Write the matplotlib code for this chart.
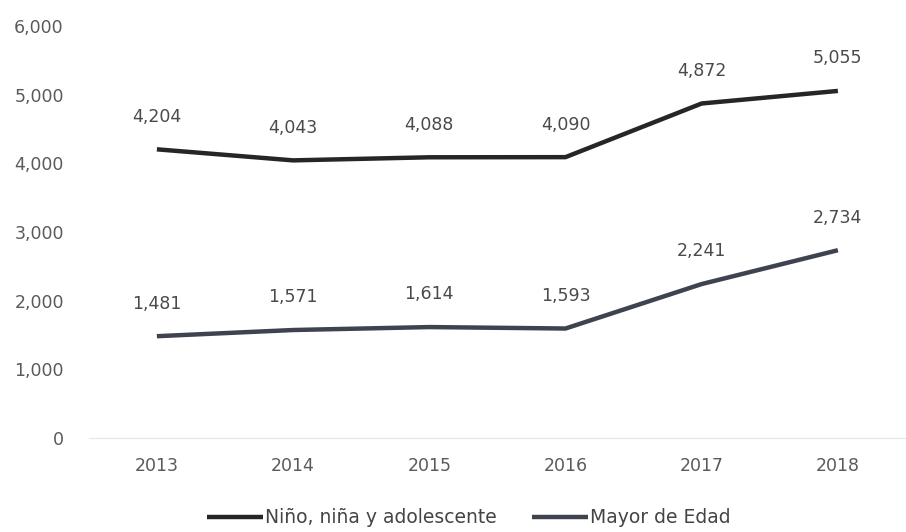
import matplotlib
matplotlib.use("Agg")
import matplotlib.pyplot as plt

plt.rcParams.update({"font.family": ["DejaVu Sans"]})

years = ["2013", "2014", "2015", "2016", "2017", "2018"]
ninos = [4204, 4043, 4088, 4090, 4872, 5055]
mayores = [1481, 1571, 1614, 1593, 2241, 2734]
yticks = [0, 1000, 2000, 3000, 4000, 5000, 6000]

fig = plt.figure(figsize=(9.06, 5.32), dpi=100)
ax = fig.add_axes([0.098, 0.177, 0.902, 0.774])

x = list(range(len(years)))
ax.plot(x, ninos, color="#262626", lw=3.2, label="Niño, niña y adolescente",
        solid_capstyle="butt")
ax.plot(x, mayores, color="#3f4350", lw=3.2, label="Mayor de Edad",
        solid_capstyle="butt")

for xs, ys in [(x, ninos), (x, mayores)]:
    for xi, yi in zip(xs, ys):
        ax.annotate(f"{yi:,}", (xi, yi), xytext=(0, 17), textcoords="offset points",
                    ha="center", va="bottom", fontsize=12.5, color="#4a4a4a")

ax.set_xlim(-0.5, 5.5)
ax.set_ylim(0, 6000)
ax.set_xticks(x)
ax.set_xticklabels(years)
ax.set_yticks(yticks)
ax.set_yticklabels([f"{v:,}" for v in yticks])
ax.tick_params(length=0, labelsize=12.5, labelcolor="#5a5a5a")
ax.tick_params(axis="x", pad=14)
ax.tick_params(axis="y", pad=18)
for s in ["top", "right", "left"]:
    ax.spines[s].set_visible(False)
ax.spines["bottom"].set_color("#e6e6e6")

ax.legend(loc="upper center", bbox_to_anchor=(0.465, -0.13), ncol=2, frameon=False,
          fontsize=13.5, labelcolor="#444444", handlelength=3.0, handletextpad=0.1,
          columnspacing=1.9)

fig.savefig("out.png", dpi=100)
